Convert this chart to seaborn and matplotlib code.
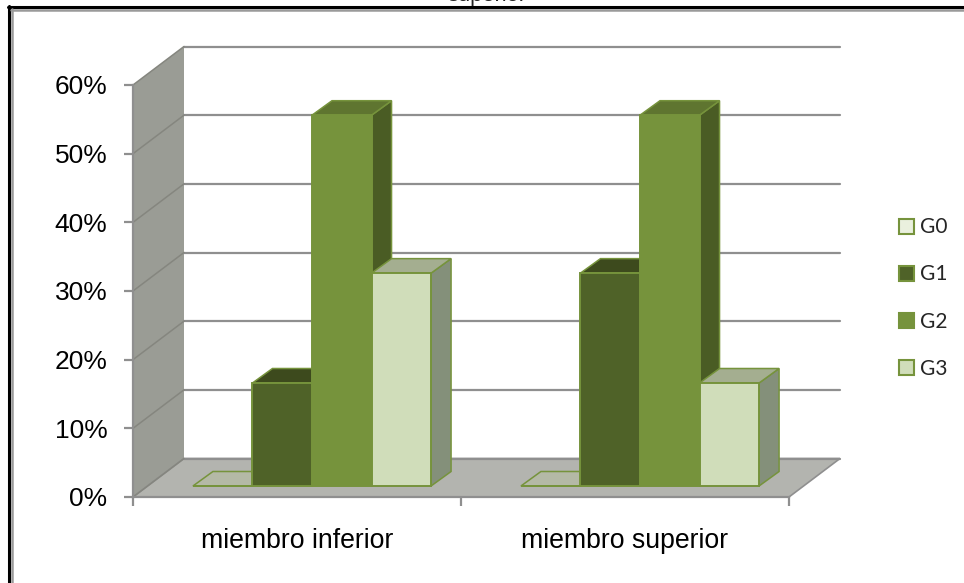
import matplotlib
matplotlib.use("Agg")
import matplotlib.pyplot as plt
from matplotlib.lines import Line2D
from matplotlib.patches import Polygon, Patch
from matplotlib.transforms import ScaledTranslation, IdentityTransform
import pandas as pd
import seaborn as sns

categories = ["miembro inferior", "miembro superior"]
grades = ["G0", "G1", "G2", "G3"]
g0 = [0, 0]
g1 = [15, 31]
g2 = [54, 54]
g3 = [31, 15]
y_ticks = [0, 10, 20, 30, 40, 50, 60]

front = {"G0": "#EAF0DE", "G1": "#4F6228", "G2": "#76933C", "G3": "#D0DDBA"}
tops = {"G0": "#B4B9A6", "G1": "#3D4A1D", "G2": "#5F7530", "G3": "#A4AE90"}
sides = {"G0": "#B4B9A6", "G1": "#4A5B24", "G2": "#4A5C24", "G3": "#84907A"}
EDGE = "#76933C"
GRID = "#8F8F8F"

df = pd.DataFrame({
    "region": categories * 4,
    "grade": [g for g in grades for _ in categories],
    "value": g0 + g1 + g2 + g3,
})

W, H = 964, 583
sns.set_theme(style="white")
plt.rcParams["font.family"] = ["Liberation Sans", "DejaVu Sans"]
fig = plt.figure(figsize=(W / 100, H / 100), dpi=100, facecolor="white")
ax = fig.add_axes([133 / W, (H - 497) / H, 656 / W, 412 / H])
ax.patch.set_visible(False)

sns.barplot(data=df, x="region", y="value", hue="grade", hue_order=grades,
            order=categories, palette=front, width=0.726, gap=0, dodge=True,
            edgecolor=EDGE, linewidth=1.4, saturation=1, ax=ax, legend=True)
ax.set_xlim(-0.5, 1.5)
ax.set_ylim(0, 60)
ax.set_xlabel("")
ax.set_ylabel("")


def px(dx, dy):
    return ScaledTranslation(dx / 100, dy / 100, fig.dpi_scale_trans)


back_t = ax.transData + px(51, 38.5)
bar_t = ax.transData + px(15, 11)
BAR_DX, BAR_DY = 20, 14.5
x0, x1 = ax.get_xlim()
ident = IdentityTransform()


def poly(points, **kw):
    p = Polygon(points, closed=True, transform=ident, clip_on=False, **kw)
    ax.add_patch(p)
    return p


# walls and floor
poly([ax.transData.transform((x0, 0)), ax.transData.transform((x0, 60)),
      back_t.transform((x0, 60)), back_t.transform((x0, 0))],
     facecolor="#9A9C95", edgecolor="none", zorder=0.5)
poly([ax.transData.transform((x0, 0)), ax.transData.transform((x1, 0)),
      back_t.transform((x1, 0)), back_t.transform((x0, 0))],
     facecolor="#B3B4AF", edgecolor=GRID, linewidth=1.2, zorder=0.6)

for v in y_ticks:
    a = back_t.transform((x0, v))
    b = back_t.transform((x1, v))
    c = ax.transData.transform((x0, v))
    ax.add_line(Line2D([a[0], b[0]], [a[1], b[1]], transform=ident, color=GRID,
                       lw=1.6, zorder=0.7, clip_on=False))
    ax.add_line(Line2D([c[0], a[0]], [c[1], a[1]], transform=ident, color="#85867F",
                       lw=1.1, zorder=0.7, clip_on=False))

# bars: the front faces come from seaborn, depth faces are derived from them
for i, (grade, container) in enumerate(zip(grades, ax.containers)):
    for patch in container:
        patch.set_transform(bar_t)
        patch.set_clip_on(False)
        patch.set_zorder(4 + 2 * i)
        bx, by, bw, bh = patch.get_x(), patch.get_y(), patch.get_width(), patch.get_height()
        lr = bar_t.transform((bx + bw, by))
        ul = bar_t.transform((bx, by + bh))
        ur = bar_t.transform((bx + bw, by + bh))
        d = (BAR_DX, BAR_DY)
        poly([lr, ur, ur + d, lr + d], facecolor=sides[grade], edgecolor=EDGE,
             linewidth=1.1, zorder=3 + 2 * i)
        poly([ul, ur, ur + d, ul + d], facecolor=tops[grade], edgecolor=EDGE,
             linewidth=1.1, zorder=3 + 2 * i)

# axes
ax.set_yticks(y_ticks)
ax.set_yticklabels([f"{v}%" for v in y_ticks])
ax.set_xticks([x0, 0.5, x1], minor=True)
sns.despine(ax=ax, top=True, right=True)
for s in ("left", "bottom"):
    ax.spines[s].set_color(GRID)
    ax.spines[s].set_linewidth(1.6)
    ax.spines[s].set_zorder(1)
ax.tick_params(axis="y", which="major", left=True, length=6.5, width=1.6, color=GRID,
               labelsize=19, labelcolor="black", pad=12)
ax.tick_params(axis="x", which="major", bottom=False, labelsize=19.2, labelcolor="black", pad=16)
ax.tick_params(axis="x", which="minor", bottom=True, length=6.5, width=1.6, color=GRID)

# legend
handles = [Patch(facecolor=front[g], edgecolor=EDGE, linewidth=1.5, label=g) for g in grades]
ax.legend(handles=handles, loc="center left", bbox_to_anchor=(899 / W, (H - 298) / H),
          bbox_transform=fig.transFigure, frameon=False,
          prop={"family": "Lato", "size": 15}, labelspacing=1.3, handlelength=0.72,
          handleheight=0.72, handletextpad=0.28, borderpad=0, borderaxespad=0)

# cut-off title and outer frame
fig.text(487 / W, (H - 1) / H, "superior", ha="center", va="baseline", fontsize=15.8, color="#222222")
for xs, ys, col, lw in [
    ([8.5, 8.5], [H - 6, 0], "black", 2.2),
    ([7.5, W], [H - 7, H - 7], "black", 2.2),
    ([11.5, 11.5], [H - 9, 0], "#9A9A9A", 1.8),
    ([10.5, W], [H - 10, H - 10], "#9A9A9A", 1.8),
]:
    fig.add_artist(Line2D([x / W for x in xs], [y / H for y in ys],
                          transform=fig.transFigure, color=col, lw=lw))

fig.savefig("out.png", dpi=100)
